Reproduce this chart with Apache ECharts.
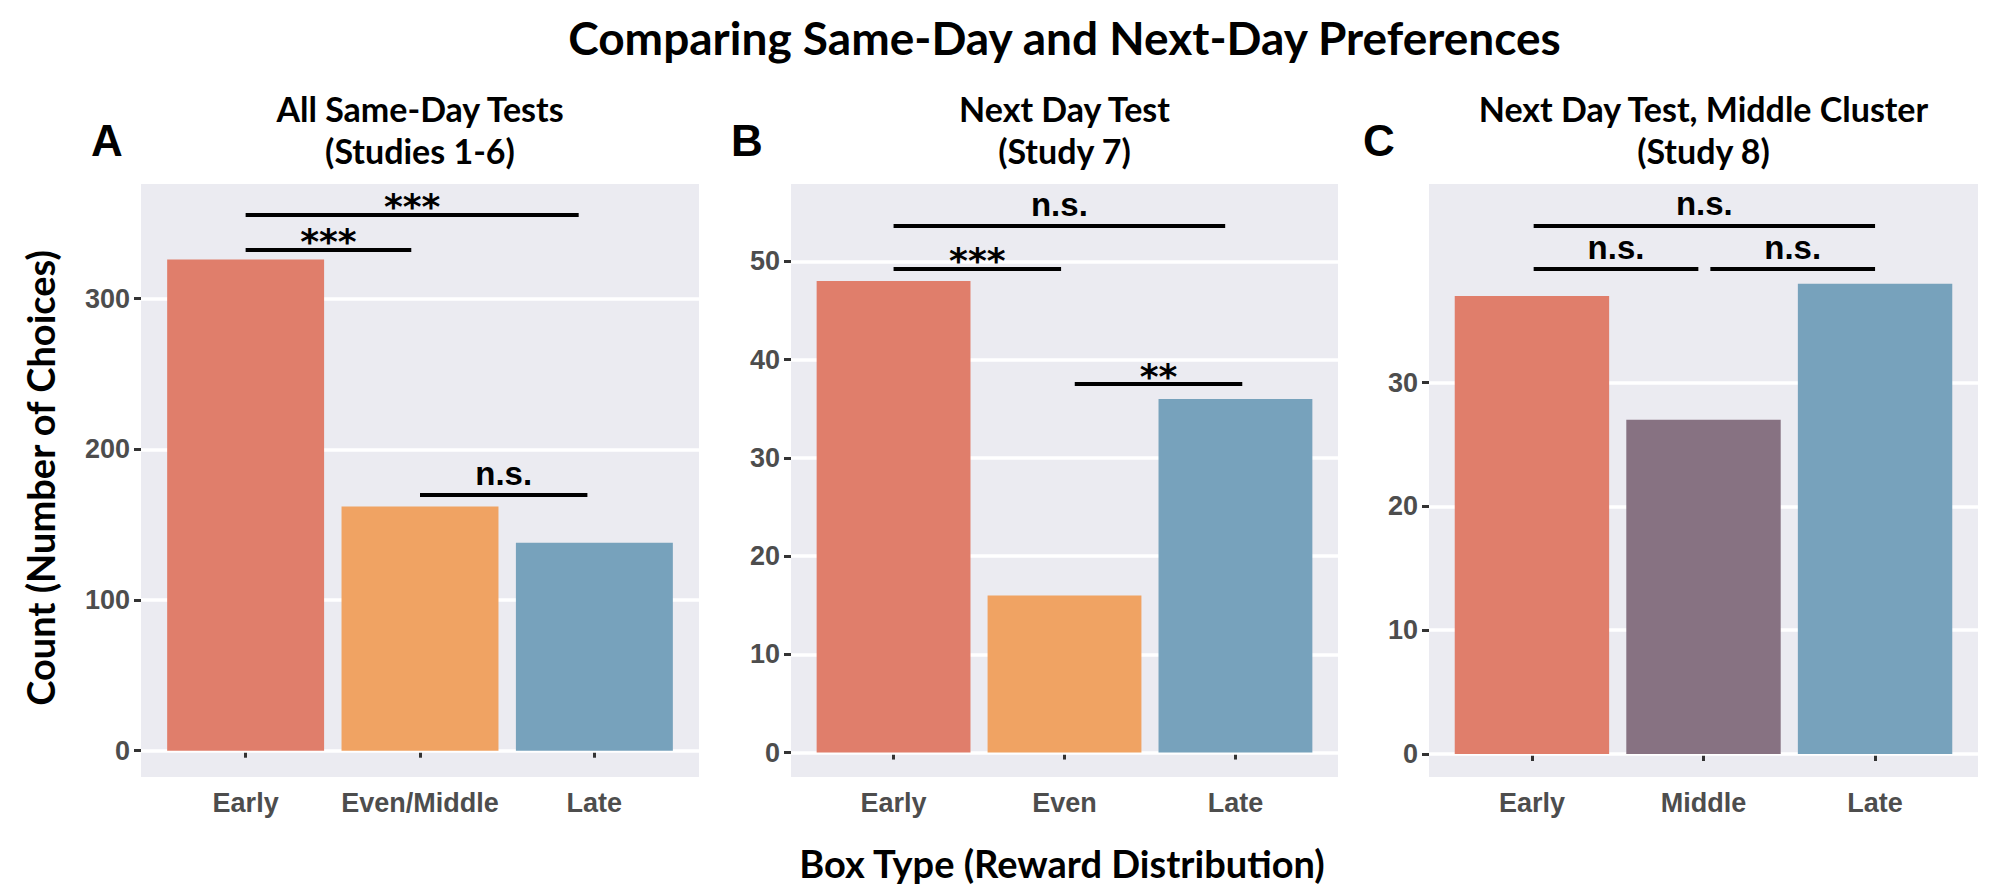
<!DOCTYPE html>
<html>
<head>
<meta charset="utf-8">
<script src="https://cdn.jsdelivr.net/npm/echarts@6/dist/echarts.min.js"></script>
<style>
html,body{margin:0;padding:0;background:#ffffff;}
#chart{width:1999px;height:895px;}
</style>
</head>
<body>
<div id="chart"></div>
<script>
// ---------------- data ----------------
const mainTitle = 'Comparing Same-Day and Next-Day Preferences';
const xAxisTitle = 'Box Type (Reward Distribution)';
const yAxisTitle = 'Count (Number of Choices)';
const panelLetters = ['A', 'B', 'C'];
const panelTitles = [
  ['All Same-Day Tests', '(Studies 1-6)'],
  ['Next Day Test', '(Study 7)'],
  ['Next Day Test, Middle Cluster', '(Study 8)']
];

const categoriesA = ['Early', 'Even/Middle', 'Late'];
const countsA = [326, 162, 138];
const ticksA = [0, 100, 200, 300];

const categoriesB = ['Early', 'Even', 'Late'];
const countsB = [48, 16, 36];
const ticksB = [0, 10, 20, 30, 40, 50];

const categoriesC = ['Early', 'Middle', 'Late'];
const countsC = [37, 27, 38];
const ticksC = [0, 10, 20, 30];

// significance brackets: [start position, end position, height (count), label]
const sigA = [[1.00, 2.91, 356, '***'], [1.00, 1.95, 332.7, '***'], [2.00, 2.96, 169.7, 'n.s.']];
const sigB = [[1.00, 2.94, 53.6, 'n.s.'], [1.00, 1.98, 49.3, '***'], [2.06, 3.04, 37.5, '**']];
const sigC = [[1.01, 3.00, 42.7, 'n.s.'], [1.01, 1.97, 39.2, 'n.s.'], [2.04, 3.00, 39.2, 'n.s.']];

// ---------------- styles / layout ----------------
const colorMap = {
  'Early': '#E07E6B',
  'Even/Middle': '#F0A363',
  'Even': '#F0A363',
  'Middle': '#877282',
  'Late': '#77A2BC'
};
const panelBg = '#EBEBF1';
const panels = [
  {cats: categoriesA, vals: countsA, ticks: ticksA, sig: sigA, left: 141, right: 699, ymin: -17.45, ymax: 376.1},
  {cats: categoriesB, vals: countsB, ticks: ticksB, sig: sigB, left: 791, right: 1338, ymin: -2.49, ymax: 57.88},
  {cats: categoriesC, vals: countsC, ticks: ticksC, sig: sigC, left: 1429, right: 1978, ymin: -1.86, ymax: 46.05}
];
const gridTop = 184, gridBottom = 777, W = 1999, H = 895;
const letterX = [107, 747, 1379];

const tickFont = {color: '#4D4D4D', fontFamily: 'Liberation Sans', fontWeight: 'bold', fontSize: 27};

const grids = [], xAxes = [], yAxes = [], series = [], graphics = [];

panels.forEach((p, i) => {
  grids.push({
    left: p.left, width: p.right - p.left, top: gridTop, height: gridBottom - gridTop,
    show: true, backgroundColor: panelBg, borderWidth: 0
  });
  const xTicks = p.cats.map((c, k) => k + 1);
  xAxes.push({
    type: 'value', gridIndex: i, min: 0.4, max: 3.6,
    axisLine: {show: false},
    splitLine: {show: false},
    axisTick: {show: true, customValues: xTicks, length: 7, lineStyle: {color: '#333333', width: 3}},
    axisLabel: Object.assign({
      customValues: xTicks, margin: 12,
      formatter: v => p.cats[Math.round(v) - 1] || ''
    }, tickFont)
  });
  yAxes.push({
    type: 'value', gridIndex: i, min: p.ymin, max: p.ymax,
    axisLine: {show: false},
    splitLine: {show: false},
    axisTick: {show: true, customValues: p.ticks, length: 7, lineStyle: {color: '#333333', width: 3}},
    axisLabel: Object.assign({customValues: p.ticks, margin: 11}, tickFont)
  });
  const unit = (p.right - p.left) / 3.2;
  series.push({
    type: 'bar', xAxisIndex: i, yAxisIndex: i, z: 2,
    barWidth: unit * 0.9,
    data: p.vals.map((v, k) => ({value: [k + 1, v], itemStyle: {color: colorMap[p.cats[k]]}})),
    markLine: {
      silent: true, symbol: 'none', z: 1, animation: false,
      label: {show: false},
      lineStyle: {color: '#FFFFFF', width: 3.5, type: 'solid'},
      data: p.ticks.map(t => ({yAxis: t}))
    },
    animation: false
  });
  series.push({
    type: 'line', xAxisIndex: i, yAxisIndex: i, data: [], z: 5,
    markLine: {
      silent: true, symbol: 'none', z: 5, animation: false,
      lineStyle: {color: '#000000', width: 4, type: 'solid'},
      data: p.sig.map(s => {
        const star = s[3].indexOf('*') >= 0;
        return [
          {coord: [s[0], s[2]], label: {
            show: true, position: 'middle', formatter: s[3], distance: star ? -10 : 5,
            color: '#000000',
            fontFamily: star ? 'DejaVu Sans' : 'Liberation Sans',
            fontWeight: 'bold',
            fontSize: star ? 36 : 33
          }},
          {coord: [s[1], s[2]]}
        ];
      })
    },
    animation: false
  });
  const cx = (p.left + p.right) / 2;
  graphics.push({type: 'text', x: cx, y: 108, style: {text: panelTitles[i][0], fill: '#000', font: 'bold 34px Lato', align: 'center', verticalAlign: 'middle'}});
  graphics.push({type: 'text', x: cx, y: 150, style: {text: panelTitles[i][1], fill: '#000', font: 'bold 34px Lato', align: 'center', verticalAlign: 'middle'}});
  graphics.push({type: 'text', x: letterX[i], y: 140, style: {text: panelLetters[i], fill: '#000', font: 'bold 44px "Liberation Sans"', align: 'center', verticalAlign: 'middle'}});
});

graphics.push({type: 'text', x: 1064.5, y: 37, style: {text: mainTitle, fill: '#000', font: 'bold 46px Lato', align: 'center', verticalAlign: 'middle'}});
graphics.push({type: 'text', x: 1062, y: 863, style: {text: xAxisTitle, fill: '#000', font: 'bold 38px Lato', align: 'center', verticalAlign: 'middle'}});
graphics.push({type: 'text', x: 40, y: 478, rotation: Math.PI / 2, style: {text: yAxisTitle, fill: '#000', font: 'bold 38px Lato', align: 'center', verticalAlign: 'middle'}});

const chart = echarts.init(document.getElementById('chart'), null, {renderer: 'svg', width: W, height: H});
chart.setOption({
  backgroundColor: '#ffffff',
  animation: false,
  grid: grids,
  xAxis: xAxes,
  yAxis: yAxes,
  series: series,
  graphic: graphics
});
</script>
</body>
</html>
